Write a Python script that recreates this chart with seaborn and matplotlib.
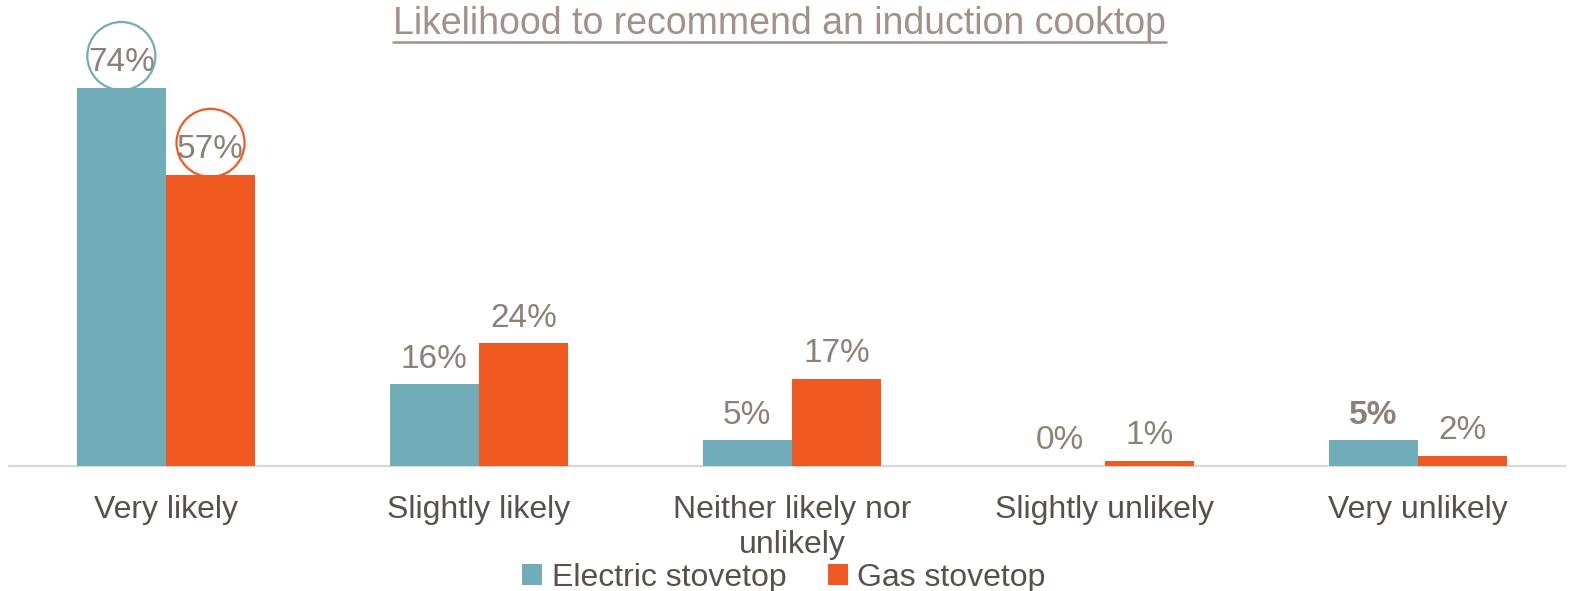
import matplotlib
matplotlib.use("Agg")
import matplotlib.pyplot as plt
import seaborn as sns
import pandas as pd

categories = ["Very likely", "Slightly likely", "Neither likely nor\nunlikely",
              "Slightly unlikely", "Very unlikely"]
series = ["Electric stovetop", "Gas stovetop"]
electric = [74, 16, 5, 0, 5]
gas = [57, 24, 17, 1, 2]

title = "Likelihood to recommend an induction cooktop"
palette = {"Electric stovetop": "#70adb8", "Gas stovetop": "#f05a22"}
label_color = "#8f7f79"
tick_color = "#5b4f4b"
title_color = "#a39089"

df = pd.DataFrame({
    "category": categories * 2,
    "series": [series[0]] * len(categories) + [series[1]] * len(categories),
    "value": electric + gas,
})

sns.set_theme(style="white")
plt.rcParams["font.family"] = ["Liberation Sans", "DejaVu Sans"]

fig = plt.figure(figsize=(15.74, 5.91), dpi=100)
ax = fig.add_axes([0.006, 1 - 466 / 591, 0.9943, 426 / 591])

sns.barplot(data=df, x="category", y="value", hue="series", order=categories,
            hue_order=series, palette=palette, width=0.57, saturation=1,
            edgecolor="none", ax=ax, legend=True)

ax.set_ylim(0, 83.4)
ax.set_xlim(-0.5, len(categories) - 0.5)
ax.set_xlabel("")
ax.set_ylabel("")
ax.set_yticks([])
for side in ["left", "right", "top", "bottom"]:
    ax.spines[side].set_visible(False)
# baseline rule
ax.plot([-0.5, len(categories) - 0.53], [0, 0], color="#d9d9d9", lw=1.6,
        clip_on=False, zorder=0)
ax.tick_params(axis="x", length=0, pad=21, labelsize=23, labelcolor=tick_color)
for t in ax.get_xticklabels():
    t.set_linespacing(1.22)

# value labels above each bar
values = [electric, gas]
for si, container in enumerate(ax.containers):
    for ci, bar in enumerate(container):
        v = values[si][ci]
        x = bar.get_x() + bar.get_width() / 2
        bold = (si == 0 and ci == 4)
        ax.annotate(f"{v}%", (x, v), xytext=(0, 12), textcoords="offset points",
                    ha="center", va="baseline", fontsize=24, color=label_color,
                    fontweight="bold" if bold else "normal")

# highlight circles around the top answer
for si, container in enumerate(ax.containers):
    bar = container[0]
    x = bar.get_x() + bar.get_width() / 2
    v = values[si][0]
    circ_y = v + 32 / 5.11
    ax.scatter([x], [circ_y], s=2400, facecolors="none",
               edgecolors=list(palette.values())[si], linewidths=1.6,
               clip_on=False, zorder=5)

leg = ax.legend(loc="center", bbox_to_anchor=(0.495, -0.262), ncol=2,
                frameon=False, fontsize=23, handlelength=0.62, handleheight=0.62,
                handletextpad=0.3, columnspacing=1.3, borderaxespad=0)
for t in leg.get_texts():
    t.set_color(tick_color)

fig.text(0.4955, 1 - 24 / 591, title, ha="center", va="center", fontsize=27,
         color=title_color)
# underline for the title
tt = fig.texts[-1]
fig.canvas.draw()
bb = tt.get_window_extent().transformed(fig.transFigure.inverted())
fig.add_artist(plt.Line2D([bb.x0, bb.x1], [bb.y0, bb.y0],
                          transform=fig.transFigure, color=title_color, lw=1.8))

fig.savefig("out.png", dpi=100)
